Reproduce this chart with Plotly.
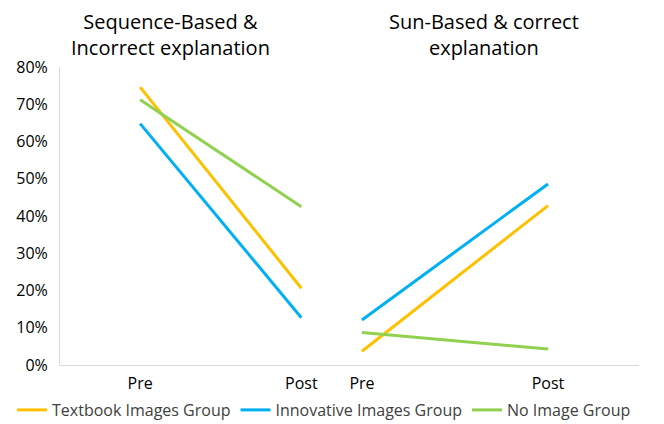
import plotly.graph_objects as go

phases = ["Pre", "Post"]
groups = ["Textbook Images Group", "Innovative Images Group", "No Image Group"]
colors = ["#FFC000", "#00B0F0", "#92D050"]
panel_titles = ["Sequence-Based &<br>Incorrect explanation", "Sun-Based & correct<br>explanation"]
# values in percent
seq_incorrect = {
    "Textbook Images Group": [74.6, 20.6],
    "Innovative Images Group": [64.8, 12.7],
    "No Image Group": [71.2, 42.5],
}
sun_correct = {
    "Textbook Images Group": [3.7, 42.8],
    "Innovative Images Group": [12.1, 48.6],
    "No Image Group": [8.7, 4.3],
}
y_ticks = [0, 10, 20, 30, 40, 50, 60, 70, 80]
y_tick_text = [f"{v}%" for v in y_ticks]

FONT = "Open Sans"
fig = go.Figure()
for g, c in zip(groups, colors):
    fig.add_trace(go.Scatter(x=phases, y=seq_incorrect[g], mode="lines", name=g,
                             line=dict(color=c, width=3), xaxis="x", yaxis="y",
                             legendgroup=g))
for g, c in zip(groups, colors):
    fig.add_trace(go.Scatter(x=phases, y=sun_correct[g], mode="lines", name=g,
                             line=dict(color=c, width=3), xaxis="x2", yaxis="y2",
                             legendgroup=g, showlegend=False))

# page body has an 8px margin, so the figure is offset by 8px
OFF = 8
W, H = 664 - OFF, 424 - OFF
ml, mr, mt, mb = 60 - OFF, 25, 67 - OFF, 59
pw = W - ml - mr
ph = H - mt - mb
split = (332 - OFF - ml) / pw

fig.update_layout(
    width=W, height=H,
    margin=dict(l=ml, r=mr, t=mt, b=mb, autoexpand=False),
    plot_bgcolor="white", paper_bgcolor="white",
    font=dict(family=FONT, size=15, color="#000000"),
    showlegend=True,
    legend=dict(orientation="h", x=-(ml - 4) / pw, xanchor="left",
                y=-(410 - 365) / ph, yanchor="middle",
                font=dict(size=16, color="#404040"),
                tracegroupgap=0),
    xaxis=dict(domain=[0, split], type="category", range=[-0.497, 1.19],
               showline=True, linecolor="#D9D9D9", linewidth=1, showgrid=False,
               ticks="outside", ticklen=4, tickcolor="white",
               tickfont=dict(size=16), zeroline=False),
    xaxis2=dict(domain=[split, 1], type="category", range=[-0.161, 1.489],
                showline=True, linecolor="#D9D9D9", linewidth=1, showgrid=False,
                ticks="outside", ticklen=4, tickcolor="white",
                tickfont=dict(size=16), zeroline=False),
    yaxis=dict(range=[0, 80], tickvals=y_ticks, ticktext=y_tick_text, showline=True,
               linecolor="#D9D9D9", linewidth=1, showgrid=False, zeroline=False,
               ticks="outside", ticklen=8, tickcolor="white",
               tickfont=dict(size=16), anchor="x"),
    yaxis2=dict(range=[0, 80], showline=False, showgrid=False, zeroline=False,
                showticklabels=False, anchor="x2", matches="y"),
)

title_x = [(170 - 60) / pw, (484 - 60) / pw]
for t, tx in zip(panel_titles, title_x):
    fig.add_annotation(text=t, xref="paper", yref="paper", x=tx, y=1.0,
                       yshift=4, xanchor="center", yanchor="bottom", showarrow=False,
                       font=dict(family=FONT, size=20, color="#000000"), align="center")

fig.write_html("out.html")
